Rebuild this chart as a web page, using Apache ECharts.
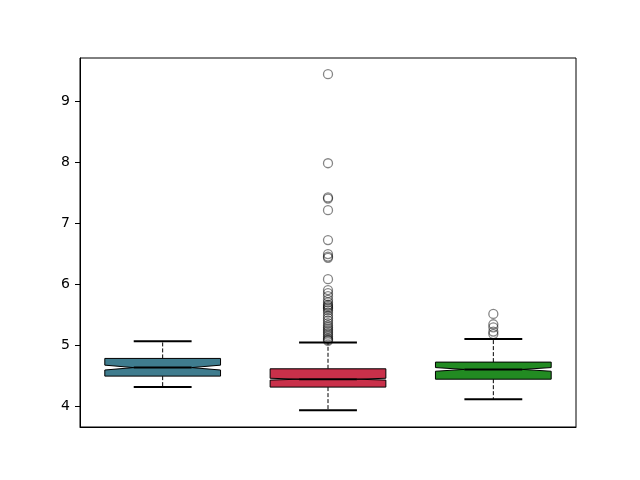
<!DOCTYPE html>
<html>
<head>
<meta charset="utf-8">
<script src="https://cdn.jsdelivr.net/npm/echarts@6/dist/echarts.min.js"></script>
<style>
  html, body { margin: 0; padding: 0; background: #fff; }
  #main { width: 640px; height: 480px; }
</style>
</head>
<body>
<div id="main"></div>
<script>
// box stats, one entry per box
const categories = ['1', '2', '3']
const whiskerLow = [4.31, 3.93, 4.11]
const q1 = [4.49, 4.31, 4.44]
const median = [4.63, 4.44, 4.60]
const q3 = [4.78, 4.61, 4.72]
const whiskerHigh = [5.06, 5.04, 5.10]
const notchLow = [4.59, 4.425, 4.57]
const notchHigh = [4.67, 4.455, 4.63]
const boxColors = ['#3f7c8e', '#c9304a', '#228b22']

// fliers
const outliers1 = []
const outliers2 = [9.44, 7.98, 7.42, 7.40, 7.21, 6.72, 6.49, 6.45, 6.43, 6.08, 5.90, 5.85, 5.80,
    5.74, 5.70, 5.66, 5.64, 5.62, 5.60, 5.57, 5.53, 5.48, 5.44, 5.40, 5.36, 5.32, 5.29,
    5.26, 5.23, 5.20, 5.17, 5.14, 5.11, 5.09, 5.07]
const outliers3 = [5.51, 5.34, 5.29, 5.22, 5.18]

const yTicks = [4, 5, 6, 7, 8, 9]

let boxData = categories.map((c, i) => [i, whiskerLow[i], q1[i], median[i], q3[i], whiskerHigh[i], notchLow[i], notchHigh[i]])
let flierData = []
;[outliers1, outliers2, outliers3].forEach((arr, i) => {
    arr.forEach(v => flierData.push([i, v]))
})

function renderBox(params, api) {
    let i = api.value(0)
    let band = api.size([1, 0])[0]
    let w = band * 0.7
    let cx = api.coord([i, median[i]])[0]
    let y = v => api.coord([i, v])[1]
    let L = cx - w / 2, R = cx + w / 2
    let pts = [
        [L, y(api.value(2))], [L, y(api.value(6))], [cx - w / 4, y(api.value(3))],
        [L, y(api.value(7))], [L, y(api.value(4))], [R, y(api.value(4))],
        [R, y(api.value(7))], [cx + w / 4, y(api.value(3))], [R, y(api.value(6))],
        [R, y(api.value(2))]
    ]
    let dashed = { stroke: '#000', lineWidth: 1, lineDash: [4, 2] }
    let thick = { stroke: '#000', lineWidth: 2 }
    return {
        type: 'group',
        children: [
            { type: 'line', shape: { x1: cx, y1: y(api.value(4)), x2: cx, y2: y(api.value(5)) }, style: dashed },
            { type: 'line', shape: { x1: cx, y1: y(api.value(2)), x2: cx, y2: y(api.value(1)) }, style: dashed },
            { type: 'line', shape: { x1: cx - w / 4, y1: y(api.value(5)), x2: cx + w / 4, y2: y(api.value(5)) }, style: thick },
            { type: 'line', shape: { x1: cx - w / 4, y1: y(api.value(1)), x2: cx + w / 4, y2: y(api.value(1)) }, style: thick },
            { type: 'polygon', shape: { points: pts },
              style: { fill: boxColors[i], stroke: '#000', lineWidth: 1 } },
            { type: 'line', shape: { x1: cx - w / 4, y1: y(api.value(3)), x2: cx + w / 4, y2: y(api.value(3)) }, style: thick }
        ]
    }
}

let chart = echarts.init(document.getElementById('main'))
let option = {
    animation: false,
    grid: { left: 80, right: 64, top: 58, bottom: 53, show: true, borderColor: '#000', borderWidth: 1 },
    xAxis: {
        type: 'category',
        data: categories,
        axisLine: { lineStyle: { color: '#000', width: 1 } },
        axisTick: { alignWithLabel: true, length: 5, lineStyle: { color: '#000' } },
        axisLabel: { show: false },
        splitLine: { show: false }
    },
    yAxis: {
        type: 'value',
        min: 3.656,
        max: 9.705,
        axisLine: { show: true, lineStyle: { color: '#000', width: 1 } },
        axisTick: { show: true, length: 5, customValues: yTicks, lineStyle: { color: '#000' } },
        axisLabel: { customValues: yTicks, color: '#000', fontSize: 14, fontFamily: 'DejaVu Sans', margin: 10 },
        splitLine: { show: false }
    },
    series: [
        {
            type: 'custom',
            renderItem: renderBox,
            encode: { x: 0, y: [1, 5] },
            data: boxData,
            z: 2
        },
        {
            type: 'scatter',
            data: flierData,
            symbol: 'circle',
            symbolSize: 9,
            itemStyle: { color: 'rgba(0,0,0,0)', borderColor: 'rgba(0,0,0,0.6)', borderWidth: 1.3 },
            z: 3
        }
    ]
}
chart.setOption(option)
</script>
</body>
</html>
